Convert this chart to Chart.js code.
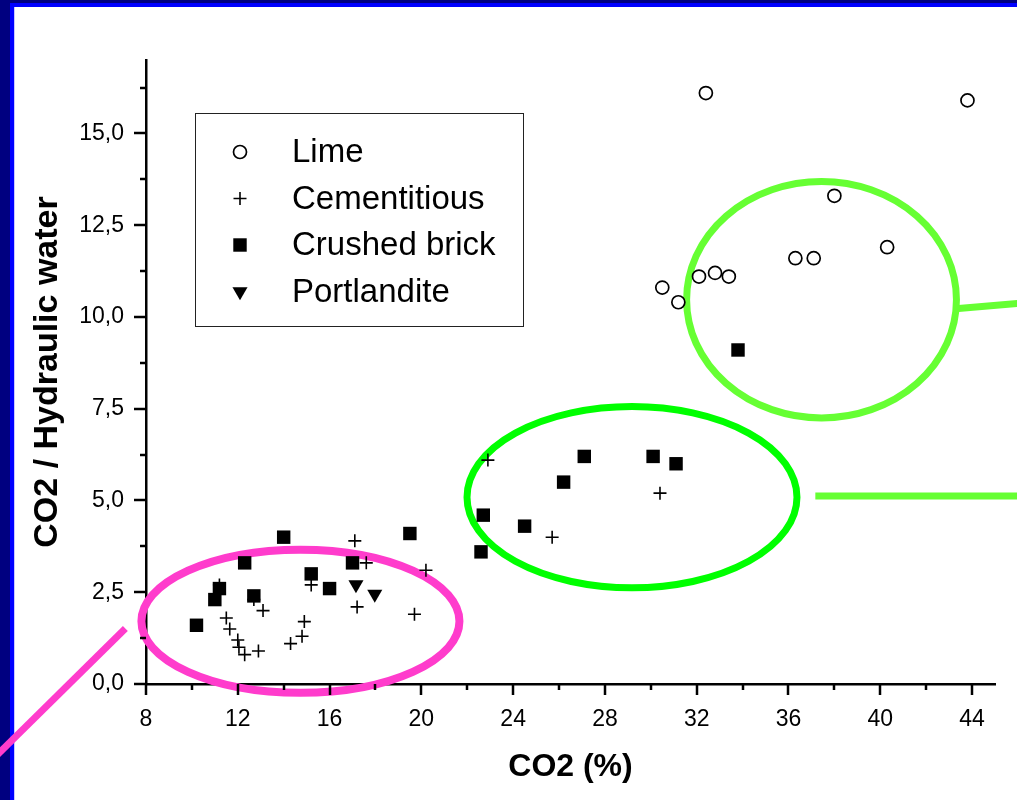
<!DOCTYPE html>
<html>
<head>
<meta charset="utf-8">
<script src="https://cdn.jsdelivr.net/npm/chart.js@4/dist/chart.umd.min.js"></script>
<style>
  html, body { margin: 0; padding: 0; background: #fff; }
  canvas { display: block; }
</style>
</head>
<body>
<canvas id="co2Chart" width="1017" height="800"></canvas>
<script>
// valori
const seriesNames = ["Lime", "Cementitious", "Crushed brick", "Portlandite"];

const limeX = [32.4, 43.8, 38.0, 40.3, 36.3, 37.1, 32.1, 32.8, 33.4, 30.5, 31.2];
const limeY = [16.1, 15.9, 13.3, 11.9, 11.6, 11.6, 11.1, 11.2, 11.1, 10.8, 10.4];

const cementX = [11.2, 11.5, 11.65, 12.0, 12.05, 12.3, 12.9, 13.1, 12.7, 14.3, 14.8, 14.9, 15.2, 17.1, 17.6, 17.2, 19.7, 20.2, 22.9, 30.4, 25.7];
const cementY = [2.7, 1.8, 1.5, 1.2, 1.0, 0.8, 0.9, 2.0, 2.3, 1.1, 1.3, 1.7, 2.7, 3.9, 3.3, 2.1, 1.9, 3.1, 6.1, 5.2, 4.0];

const brickX = [10.2, 11.0, 11.2, 12.3, 12.7, 14.0, 15.2, 16.0, 17.0, 19.5, 22.6, 22.7, 24.5, 26.2, 27.1, 30.1, 31.1, 33.8];
const brickY = [1.6, 2.3, 2.6, 3.3, 2.4, 4.0, 3.0, 2.6, 3.3, 4.1, 3.6, 4.6, 4.3, 5.5, 6.2, 6.2, 6.0, 9.1];

const portlandX = [17.15, 17.97];
const portlandY = [2.71, 2.45];

const xTicks = [8, 12, 16, 20, 24, 28, 32, 36, 40, 44];
const yTicks = [0, 2.5, 5, 7.5, 10, 12.5, 15];

// cercurile colorate (unitati de date)
const rings = [
    { x: 14.73, y: 1.71, rx: 6.93, ry: 1.95, color: "#ff3ccc", width: 8 },
    { x: 29.18, y: 5.09, rx: 7.19, ry: 2.47, color: "#00ff00", width: 7 },
    { x: 37.44, y: 10.47, rx: 5.88, ry: 3.22, color: "#66ff33", width: 7 }
];
const leaders = [
    { x1: 7.10, y1: 1.51, x2: 1.21, y2: -2.12, color: "#ff3ccc", width: 7 },
    { x1: 37.17, y1: 5.12, x2: 46.0, y2: 5.12, color: "#66ff33", width: 7 },
    { x1: 43.41, y1: 10.23, x2: 46.0, y2: 10.37, color: "#66ff33", width: 7 }
];

const font = "'Liberation Sans', Arial, sans-serif";

function toPoints(xs, ys) {
    return xs.map((x, i) => ({ x: x, y: ys[i] }));
}

const framePlugin = {
    id: "frame",
    beforeDraw(chart) {
        const ctx = chart.ctx;
        ctx.save();
        ctx.fillStyle = "#ffffff";
        ctx.fillRect(0, 0, chart.width, chart.height);
        ctx.fillStyle = "#000080";
        ctx.fillRect(0, 0, chart.width, 3);
        ctx.fillRect(0, 0, 10, chart.height);
        ctx.fillStyle = "#0000ff";
        ctx.fillRect(10, 3, chart.width - 10, 4);
        ctx.fillRect(10, 3, 4, chart.height - 3);
        ctx.fillStyle = "#c8c8ff";
        ctx.fillRect(14, 7, 1, chart.height - 7);
        ctx.restore();
    },
    beforeDatasetsDraw(chart) {
        const ctx = chart.ctx;
        const xs = chart.scales.x, ys = chart.scales.y;
        ctx.save();
        rings.forEach(r => {
            const cx = xs.getPixelForValue(r.x), cy = ys.getPixelForValue(r.y);
            const rx = Math.abs(xs.getPixelForValue(r.x + r.rx) - cx);
            const ry = Math.abs(ys.getPixelForValue(r.y + r.ry) - cy);
            ctx.beginPath();
            ctx.ellipse(cx, cy, rx, ry, 0, 0, Math.PI * 2);
            ctx.strokeStyle = r.color;
            ctx.lineWidth = r.width;
            ctx.stroke();
        });
        leaders.forEach(l => {
            ctx.beginPath();
            ctx.moveTo(xs.getPixelForValue(l.x1), ys.getPixelForValue(l.y1));
            ctx.lineTo(xs.getPixelForValue(l.x2), ys.getPixelForValue(l.y2));
            ctx.strokeStyle = l.color;
            ctx.lineWidth = l.width;
            ctx.stroke();
        });
        ctx.restore();
    },
    afterDraw(chart) {
        const ctx = chart.ctx;
        const xs = chart.scales.x, ys = chart.scales.y;
        const area = chart.chartArea;
        ctx.save();
        ctx.strokeStyle = "#000";
        ctx.lineWidth = 2.5;
        // liniute pe axe (mari si mici)
        for (let v = 8; v <= 44; v += 2) {
            const px = Math.round(xs.getPixelForValue(v));
            const len = v % 4 === 0 ? 11 : 6;
            ctx.beginPath();
            ctx.moveTo(px, area.bottom);
            ctx.lineTo(px, area.bottom + len);
            ctx.stroke();
        }
        for (let i = 0; i <= 13; i++) {
            const v = i * 1.25;
            const py = Math.round(ys.getPixelForValue(v));
            const len = i % 2 === 0 ? 12 : 6;
            ctx.beginPath();
            ctx.moveTo(area.left, py);
            ctx.lineTo(area.left - len, py);
            ctx.stroke();
        }

        // legenda in interiorul graficului
        ctx.lineWidth = 1;
        ctx.strokeStyle = "#222";
        ctx.strokeRect(195.5, 113.5, 328, 213);
        ctx.font = "33px " + font;
        ctx.textBaseline = "middle";
        ctx.textAlign = "left";
        chart.data.datasets.forEach((ds, i) => {
            const rowY = 152 + i * 46.5;
            ctx.fillStyle = ds.backgroundColor;
            ctx.strokeStyle = ds.borderColor;
            ctx.lineWidth = ds.borderWidth;
            Chart.helpers.drawPoint(ctx, {
                pointStyle: ds.pointStyle,
                radius: ds.pointRadius,
                rotation: ds.rotation || 0,
                borderWidth: ds.borderWidth
            }, 240, rowY);
            ctx.fillStyle = "#000";
            ctx.fillText(ds.label, 292, rowY + 1);
        });
        ctx.restore();
    }
};

const ctx = document.getElementById("co2Chart").getContext("2d");

const co2Chart = new Chart(ctx, {
    type: "scatter",
    data: {
        datasets: [
            {
                label: seriesNames[0],
                data: toPoints(limeX, limeY),
                pointStyle: "circle",
                pointRadius: 6.5,
                backgroundColor: "#ffffff",
                borderColor: "#000000",
                borderWidth: 1.7
            },
            {
                label: seriesNames[1],
                data: toPoints(cementX, cementY),
                pointStyle: "cross",
                pointRadius: 6.5,
                backgroundColor: "#000000",
                borderColor: "#000000",
                borderWidth: 1.6
            },
            {
                label: seriesNames[2],
                data: toPoints(brickX, brickY),
                pointStyle: "rect",
                pointRadius: 9.5,
                backgroundColor: "#000000",
                borderColor: "#000000",
                borderWidth: 0
            },
            {
                label: seriesNames[3],
                data: toPoints(portlandX, portlandY),
                pointStyle: "triangle",
                rotation: 180,
                pointRadius: 8.7,
                backgroundColor: "#000000",
                borderColor: "#000000",
                borderWidth: 0
            }
        ]
    },
    options: {
        responsive: false,
        animation: false,
        events: [],
        layout: {
            padding: { top: 60, right: 22, left: 0, bottom: 0 }
        },
        plugins: {
            legend: { display: false },
            tooltip: { enabled: false }
        },
        scales: {
            x: {
                type: "linear",
                min: 8,
                max: 45,
                afterFit(scale) { scale.height = 116; },
                afterBuildTicks(scale) { scale.ticks = xTicks.map(v => ({ value: v })); },
                grid: { display: false, drawTicks: false },
                border: { display: true, color: "#000", width: 2.5 },
                ticks: {
                    includeBounds: false,
                    padding: 22,
                    color: "#000",
                    font: { family: font, size: 23 }
                },
                title: {
                    display: true,
                    text: "CO2 (%)",
                    color: "#000",
                    padding: { bottom: 14 },
                    font: { family: font, size: 32, weight: "bold" }
                }
            },
            y: {
                type: "linear",
                min: 0,
                max: 17,
                afterFit(scale) { scale.width = 146; },
                afterBuildTicks(scale) { scale.ticks = yTicks.map(v => ({ value: v })); },
                grid: { display: false, drawTicks: false },
                border: { display: true, color: "#000", width: 2.5 },
                ticks: {
                    includeBounds: false,
                    padding: 22,
                    color: "#000",
                    font: { family: font, size: 23 },
                    callback: v => v.toFixed(1).replace(".", ",")
                },
                title: {
                    display: true,
                    text: "CO2 / Hydraulic water",
                    color: "#000",
                    padding: { top: 27 },
                    font: { family: font, size: 34, weight: "bold" }
                }
            }
        }
    },
    plugins: [framePlugin]
});
</script>
</body>
</html>
